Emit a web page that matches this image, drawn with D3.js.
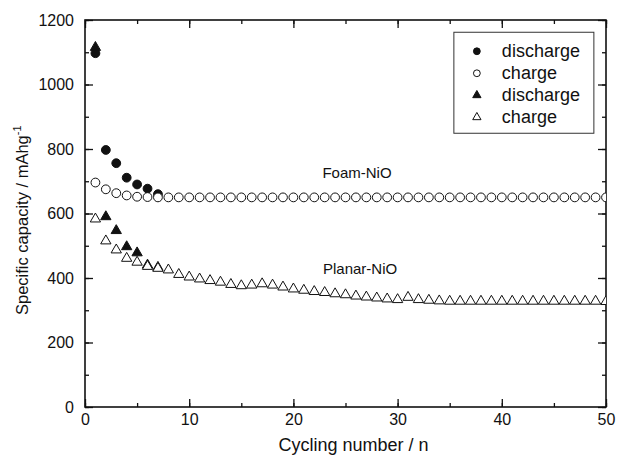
<!DOCTYPE html>
<html>
<head>
<meta charset="utf-8">
<script src="https://cdn.jsdelivr.net/npm/d3@7"></script>
<style>
  body { margin: 0; background: #fff; }
  svg text { font-family: "Liberation Sans", Arial, sans-serif; fill: #111; }
</style>
</head>
<body>
<div id="chart"></div>
<script>
// cycle numbers and capacities (mAh/g)
const cycles = d3.range(1, 51);
const foamDischarge = [1097, 797, 756, 711, 690, 677, 660];
const foamCharge = [696, 675, 663, 656, 652, 651, 650, 650, 650, 650,
    650, 650, 650, 650, 650, 650, 650, 650, 650, 650,
    650, 650, 650, 650, 650, 650, 650, 650, 650, 650,
    650, 650, 650, 650, 650, 650, 650, 650, 650, 650,
    650, 650, 650, 650, 650, 650, 650, 650, 650, 650];
const planarDischarge = [1115, 590, 547, 497, 478, 440, 433];
const planarCharge = [583, 515, 487, 461, 449, 436, 430, 425, 411, 403,
    397, 392, 387, 380, 376, 378, 382, 378, 372, 366,
    362, 358, 355, 351, 348, 344, 341, 338, 335, 333,
    340, 333, 331, 329, 328, 328, 328, 328, 328, 328,
    328, 328, 328, 328, 328, 328, 328, 328, 328, 327];

const xTicks = [0, 10, 20, 30, 40, 50];
const yTicks = [0, 200, 400, 600, 800, 1000, 1200];
const legendItems = [
    { label: "discharge", shape: "circle", filled: true },
    { label: "charge", shape: "circle", filled: false },
    { label: "discharge", shape: "triangle", filled: true },
    { label: "charge", shape: "triangle", filled: false }
];

const width = 619, height = 456;
const margin = { top: 20, right: 13, bottom: 49, left: 85 };
const w = width - margin.left - margin.right;
const h = height - margin.top - margin.bottom;

const svg = d3.select("#chart").append("svg")
    .attr("width", width)
    .attr("height", height);

const g = svg.append("g")
    .attr("transform", `translate(${margin.left},${margin.top})`);

const x = d3.scaleLinear().domain([0, 50]).range([0, w]);
const y = d3.scaleLinear().domain([0, 1200]).range([h, 0]);

svg.append("defs").append("clipPath").attr("id", "plot-clip")
    .append("rect").attr("width", w).attr("height", h);

// axes: ticks point inward on all four sides
function styleAxis(sel) {
    sel.select(".domain").remove();
    sel.selectAll(".tick line").attr("stroke", "#111").attr("stroke-width", 1.3);
    sel.selectAll(".tick text").attr("font-size", 16).attr("fill", "#111");
}

const minorX = d3.range(0, 51, 5);
const minorY = d3.range(0, 1201, 100);
const fmt = d3.format("d");

g.append("g").attr("transform", `translate(0,${h})`)
    .call(d3.axisBottom(x).tickValues(minorX).tickSize(-4).tickFormat(""))
    .call(styleAxis);
g.append("g").attr("transform", `translate(0,${h})`)
    .call(d3.axisBottom(x).tickValues(xTicks).tickSize(-8).tickPadding(7).tickFormat(fmt))
    .call(styleAxis);
g.append("g")
    .call(d3.axisTop(x).tickValues(minorX).tickSize(-4).tickFormat(""))
    .call(styleAxis);
g.append("g")
    .call(d3.axisTop(x).tickValues(xTicks).tickSize(-8).tickFormat(""))
    .call(styleAxis);

g.append("g")
    .call(d3.axisLeft(y).tickValues(minorY).tickSize(-4).tickFormat(""))
    .call(styleAxis);
g.append("g")
    .call(d3.axisLeft(y).tickValues(yTicks).tickSize(-8).tickPadding(11).tickFormat(fmt))
    .call(styleAxis);
g.append("g").attr("transform", `translate(${w},0)`)
    .call(d3.axisRight(y).tickValues(minorY).tickSize(-4).tickFormat(""))
    .call(styleAxis);
g.append("g").attr("transform", `translate(${w},0)`)
    .call(d3.axisRight(y).tickValues(yTicks).tickSize(-8).tickFormat(""))
    .call(styleAxis);

// frame
g.append("rect")
    .attr("width", w).attr("height", h)
    .attr("fill", "none").attr("stroke", "#111").attr("stroke-width", 1.6);

// markers
const circlePath = d3.symbol().type(d3.symbolCircle).size(Math.PI * 4.4 * 4.4)();
const trianglePath = d3.symbol().type(d3.symbolTriangle).size(46)();

const plot = g.append("g").attr("clip-path", "url(#plot-clip)");

function drawSeries(values, path, filled) {
    plot.append("g").selectAll("path")
        .data(values)
        .enter()
        .append("path")
        .attr("d", path)
        .attr("transform", (d, i) => `translate(${x(cycles[i])},${y(d)})`)
        .attr("fill", filled ? "#111" : "#fff")
        .attr("stroke", "#111")
        .attr("stroke-width", 1);
}

drawSeries(foamDischarge, circlePath, true);
drawSeries(foamCharge, circlePath, false);
drawSeries(planarDischarge, trianglePath, true);
drawSeries(planarCharge, trianglePath, false);

// annotations
g.append("text")
    .attr("x", x(26.1)).attr("y", y(710))
    .attr("text-anchor", "middle").attr("font-size", 15)
    .text("Foam-NiO");
g.append("text")
    .attr("x", x(26.4)).attr("y", y(412))
    .attr("text-anchor", "middle").attr("font-size", 15)
    .text("Planar-NiO");

// legend
const legend = g.append("g").attr("transform", `translate(${x(35.4)},${y(1162)})`);
legend.append("rect")
    .attr("width", 140).attr("height", 101)
    .attr("fill", "#fff").attr("stroke", "#333").attr("stroke-width", 1);

const legendCircle = d3.symbol().type(d3.symbolCircle).size(Math.PI * 3.4 * 3.4)();
const legendTriangle = d3.symbol().type(d3.symbolTriangle).size(30)();

legendItems.forEach((item, i) => {
    const row = legend.append("g").attr("transform", `translate(0,${19 + i * 22})`);
    row.append("path")
        .attr("d", item.shape === "circle" ? legendCircle : legendTriangle)
        .attr("transform", "translate(23,0)")
        .attr("fill", item.filled ? "#111" : "#fff")
        .attr("stroke", "#111").attr("stroke-width", 1);
    row.append("text")
        .attr("x", 48).attr("y", 6)
        .attr("font-size", 18)
        .text(item.label);
});

// axis titles
svg.append("text")
    .attr("x", margin.left + w / 2 + 8).attr("y", 451)
    .attr("text-anchor", "middle").attr("font-size", 18)
    .text("Cycling number / n");

const yTitle = svg.append("text")
    .attr("transform", "translate(28,315) rotate(-90)")
    .attr("text-anchor", "start").attr("font-size", 16.5);
yTitle.append("tspan").text("Specific capacity / mAhg");
yTitle.append("tspan").attr("dy", -7).attr("font-size", 11).text("-1");
</script>
</body>
</html>
